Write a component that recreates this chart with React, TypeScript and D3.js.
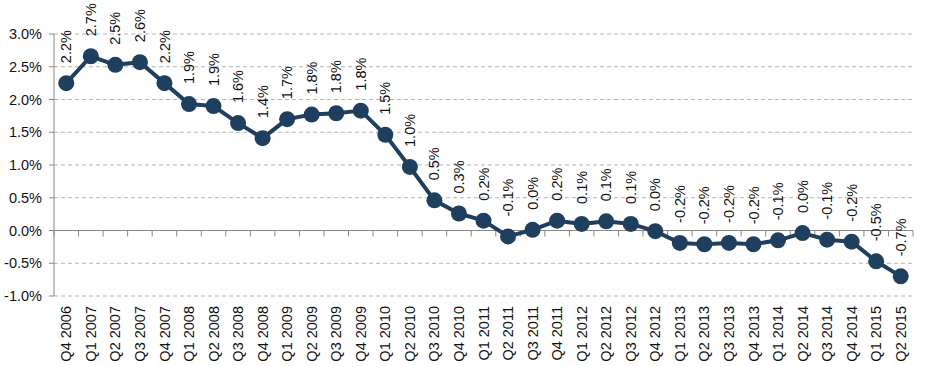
import React from "react";
import * as d3 from "d3";

const categories = [
  "Q4 2006","Q1 2007","Q2 2007","Q3 2007","Q4 2007","Q1 2008","Q2 2008","Q3 2008","Q4 2008",
  "Q1 2009","Q2 2009","Q3 2009","Q4 2009","Q1 2010","Q2 2010","Q3 2010","Q4 2010","Q1 2011",
  "Q2 2011","Q3 2011","Q4 2011","Q1 2012","Q2 2012","Q3 2012","Q4 2012","Q1 2013","Q2 2013",
  "Q3 2013","Q4 2013","Q1 2014","Q2 2014","Q3 2014","Q4 2014","Q1 2015","Q2 2015"
];
const values = [
  2.25, 2.66, 2.53, 2.57, 2.25, 1.93, 1.90, 1.64, 1.41,
  1.70, 1.77, 1.79, 1.83, 1.46, 0.97, 0.46, 0.26, 0.15,
  -0.09, 0.01, 0.15, 0.10, 0.14, 0.10, -0.01, -0.19, -0.21,
  -0.19, -0.21, -0.15, -0.04, -0.14, -0.17, -0.47, -0.70
];
const valueLabels = [
  "2.2%","2.7%","2.5%","2.6%","2.2%","1.9%","1.9%","1.6%","1.4%",
  "1.7%","1.8%","1.8%","1.8%","1.5%","1.0%","0.5%","0.3%","0.2%",
  "-0.1%","0.0%","0.2%","0.1%","0.1%","0.1%","0.0%","-0.2%","-0.2%",
  "-0.2%","-0.2%","-0.1%","0.0%","-0.1%","-0.2%","-0.5%","-0.7%"
];
const yTicks = [-1.0, -0.5, 0, 0.5, 1.0, 1.5, 2.0, 2.5, 3.0];

const W = 947, H = 366;
const left = 54, right = 913, top = 34, bottom = 296;
const navy = "#1f3f5f";
const font = "'Liberation Sans', Arial, sans-serif";

export default function App() {
  const x = d3.scaleBand<string>().domain(categories).range([left, right]).padding(0);
  const y = d3.scaleLinear().domain([-1, 3]).range([bottom, top]);
  const cx = (c: string) => (x(c) as number) + x.bandwidth() / 2;
  const line = d3.line<number>().x((_, i) => cx(categories[i])).y((d) => y(d));
  const y0 = y(0);
  const boundaries = categories.map((c) => x(c) as number).concat([right]);

  return (
    <svg width={W} height={H} style={{ position: "absolute", left: 0, top: 0, background: "#fff" }}>
      {yTicks.map((t) => (
        <g key={t}>
          {t !== 0 && (
            <line x1={left} x2={right + 2} y1={y(t)} y2={y(t)} stroke="#b5b5b5" strokeWidth={1} strokeDasharray="4,3" />
          )}
          <line x1={left - 5} x2={left} y1={y(t)} y2={y(t)} stroke="#888" strokeWidth={1} />
          <text x={42} y={y(t)} dy="0.35em" textAnchor="end" fontFamily={font} fontSize={14.5} fill="#111">
            {t.toFixed(1) + "%"}
          </text>
        </g>
      ))}
      <line x1={left} x2={left} y1={top} y2={bottom} stroke="#888" strokeWidth={1} />
      <line x1={left} x2={right} y1={y0} y2={y0} stroke="#888" strokeWidth={1} />
      {boundaries.map((b, i) => (
        <line key={i} x1={b} x2={b} y1={y0} y2={y0 + 6} stroke="#888" strokeWidth={1} />
      ))}
      <path d={line(values) || ""} fill="none" stroke={navy} strokeWidth={4} strokeLinejoin="round" />
      {values.map((v, i) => (
        <circle key={i} cx={cx(categories[i])} cy={y(v)} r={8} fill={navy} />
      ))}
      {values.map((v, i) => {
        const px = cx(categories[i]);
        const py = y(v) - 20;
        return (
          <text key={i} transform={`translate(${px},${py}) rotate(-90)`} dy="0.35em" textAnchor="start"
            fontFamily={font} fontSize={14.5} fill="#111">
            {valueLabels[i]}
          </text>
        );
      })}
      {categories.map((c) => (
        <text key={c} transform={`translate(${cx(c)},306) rotate(-90)`} dy="0.35em" textAnchor="end"
          fontFamily={font} fontSize={14.5} fill="#111">
          {c}
        </text>
      ))}
    </svg>
  );
}
